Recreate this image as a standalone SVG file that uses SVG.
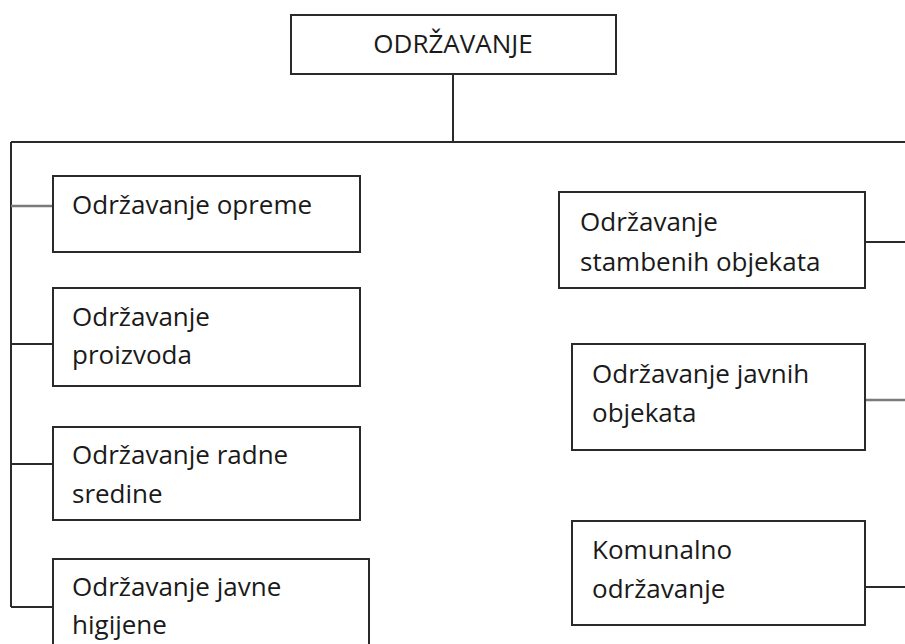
<svg xmlns="http://www.w3.org/2000/svg" width="905" height="644" viewBox="0 0 905 644">
<style>
.box{fill:#fff;stroke:#2a2a2a;stroke-width:2}
.t{font-family:"Open Sans","Noto Sans","Liberation Sans",sans-serif;font-size:26px;fill:#1a1a1a}
.c{fill:none;stroke:#2a2a2a;stroke-width:2}
.g{fill:none;stroke:#7a7a7a;stroke-width:2.5}
</style>
<rect width="905" height="644" fill="#fff"/>
<g id="connectors">
<path class="c" d="M453 74V142M11 142H905M11 142V607"/>
<path class="g" d="M11 206H53"/>
<path class="c" d="M11 344H53M11 464H53M11 607H53"/>
<path class="c" d="M865 242H905"/>
<path class="g" d="M865 400H905"/>
<path class="c" d="M865 587H905"/>
</g>
<g id="root">
<rect class="box" x="291" y="15" width="325" height="59"/>
<text class="t" x="453" y="53" text-anchor="middle">ODRŽAVANJE</text>
</g>
<g id="opreme">
<rect class="box" x="53" y="176" width="307" height="76"/>
<text class="t" x="72" y="214">Održavanje opreme</text>
</g>
<g id="proizvoda">
<rect class="box" x="53" y="288" width="307" height="98"/>
<text class="t" x="72" y="326">Održavanje</text>
<text class="t" x="72" y="364">proizvoda</text>
</g>
<g id="radne">
<rect class="box" x="53" y="427" width="307" height="93"/>
<text class="t" x="72" y="464">Održavanje radne</text>
<text class="t" x="72" y="503">sredine</text>
</g>
<g id="higijene">
<rect class="box" x="53" y="559" width="316" height="95"/>
<text class="t" x="72" y="596">Održavanje javne</text>
<text class="t" x="72" y="634">higijene</text>
</g>
<g id="stambenih">
<rect class="box" x="559" y="192" width="306" height="96"/>
<text class="t" x="580" y="231">Održavanje</text>
<text class="t" x="580" y="271">stambenih objekata</text>
</g>
<g id="javnih">
<rect class="box" x="572" y="344" width="293" height="106"/>
<text class="t" x="592" y="383">Održavanje javnih</text>
<text class="t" x="592" y="422">objekata</text>
</g>
<g id="komunalno">
<rect class="box" x="572" y="521" width="293" height="104"/>
<text class="t" x="592" y="559">Komunalno</text>
<text class="t" x="592" y="598">održavanje</text>
</g>
</svg>
